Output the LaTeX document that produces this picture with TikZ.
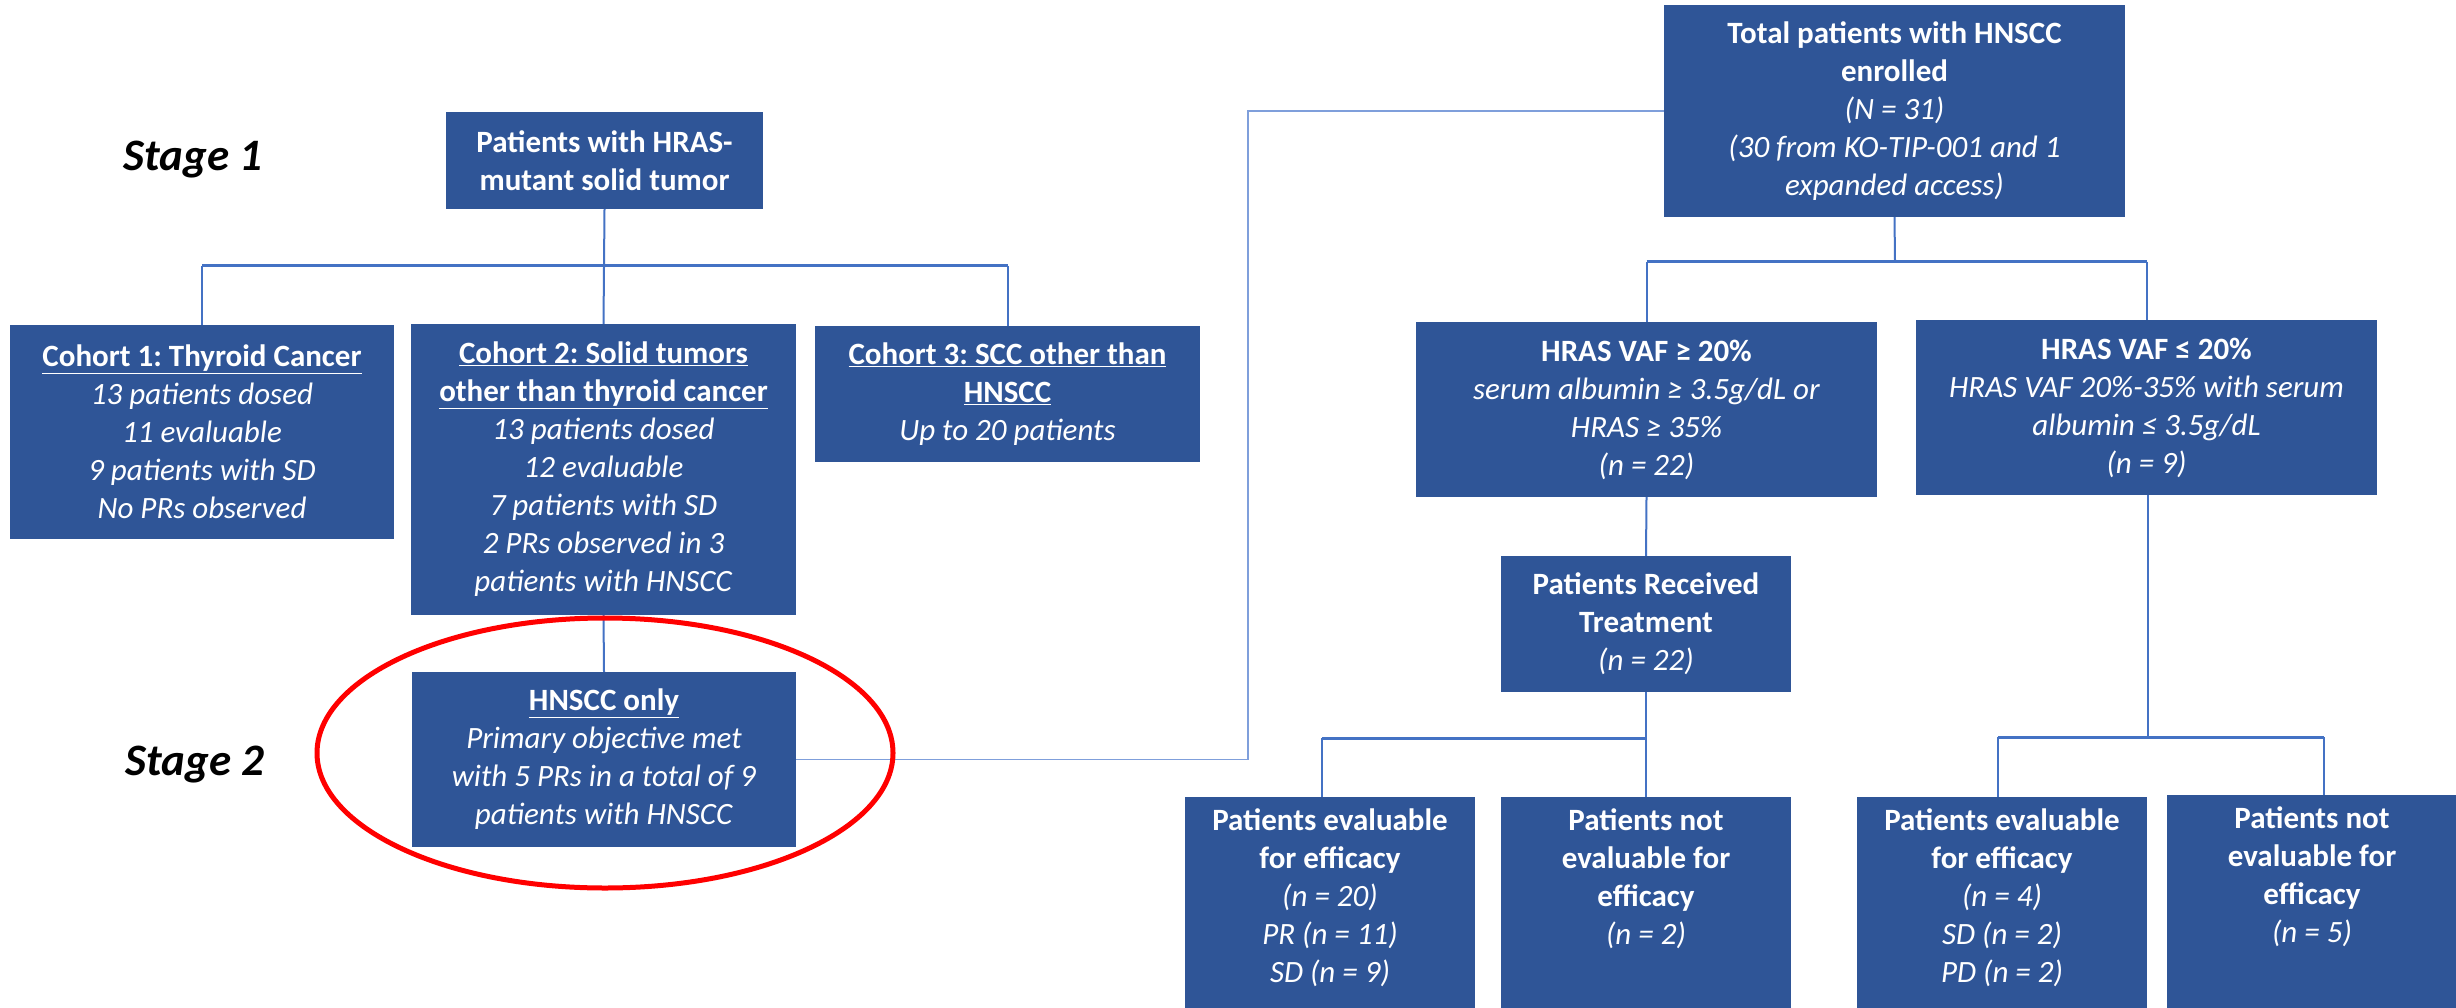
\documentclass[tikz,border=0pt]{standalone}
\usepackage{fontspec}
\setmainfont{Carlito}
\frenchspacing
\definecolor{boxblue}{HTML}{2F5597}
\definecolor{linkblue}{HTML}{4472C4}
\definecolor{lightlink}{HTML}{7F9FDB}
\begin{document}
\begin{tikzpicture}[x=1pt,y=-1pt,
  box/.style={fill=boxblue, text=white, inner sep=0pt, align=center,
    font=\fontsize{31}{38}\selectfont},
  boxtext/.style={text=white, inner sep=0pt, align=center,
    font=\fontsize{31}{38}\selectfont},
  conn/.style={draw=linkblue, line width=2pt},
  bus/.style={draw=linkblue, line width=3pt},
  stage/.style={font=\fontsize{45}{54}\selectfont\bfseries\itshape, text=black}]
\useasboundingbox (0,0) rectangle (2456,1008);
\clip (0,0) rectangle (2456,1008);
\fill[white] (0,0) rectangle (2456,1008);

% stage labels
\node[stage] (s1) at (193,160) {Stage 1};
\node[stage] (s2) at (195,765) {Stage 2};

% left tree
\node[box, minimum width=317pt, minimum height=97pt] (hras) at (604.5,160.5)
  {\textbf{Patients with HRAS-}\\\textbf{mutant solid tumor}};
\node[box, minimum width=384pt, minimum height=214pt] (c1) at (202,432)
  {\textbf{\underline{Cohort 1: Thyroid Cancer}}\\\textit{13 patients dosed}\\\textit{11 evaluable}\\\textit{9 patients with SD}\\\textit{No PRs observed}};
\node[box, minimum width=385pt, minimum height=291pt] (c2) at (603.5,469.5)
  {\textbf{\underline{Cohort 2: Solid tumors}}\\\textbf{\underline{other than thyroid cancer}}\\\textit{13 patients dosed}\\\textit{12 evaluable}\\\textit{7 patients with SD}\\\textit{2 PRs observed in 3}\\\textit{patients with HNSCC}};
\node[box, minimum width=385pt, minimum height=136pt] (c3) at (1007.5,394)
  {\textbf{\underline{Cohort 3: SCC other than}}\\\textbf{\underline{HNSCC}}\\\textit{Up to 20 patients}};
\node[box, minimum width=384pt, minimum height=175pt] (hn) at (604,759.5)
  {\textbf{\underline{HNSCC only}}\\\textit{Primary objective met}\\\textit{with 5 PRs in a total of 9}\\\textit{patients with HNSCC}};

% right tree
\node[box, minimum width=461pt, minimum height=212pt] (tot) at (1894.5,111)
  {\textbf{Total patients with HNSCC}\\\textbf{enrolled}\\\textit{(N = 31)}\\\textit{(30 from KO-TIP-001 and 1}\\\textit{expanded access)}};
\node[box, minimum width=461pt, minimum height=175pt] (vge) at (1646.5,409.5)
  {\textbf{HRAS VAF ≥ 20\%}\\\textit{serum albumin ≥ 3.5g/dL or}\\\textit{HRAS ≥ 35\%}\\\textit{(n = 22)}};
\node[box, minimum width=461pt, minimum height=175pt] (vle) at (2146.5,407.5)
  {\textbf{HRAS VAF ≤ 20\%}\\\textit{HRAS VAF 20\%-35\% with serum}\\\textit{albumin ≤ 3.5g/dL}\\\textit{(n = 9)}};
\node[box, minimum width=290pt, minimum height=136pt] (rec) at (1646,624)
  {\textbf{Patients Received}\\\textbf{Treatment}\\\textit{(n = 22)}};

% bottom boxes (text anchored at top)
\node[box, minimum width=290pt, minimum height=230pt, anchor=north] (ev1) at (1330,797) {};
\node[box, minimum width=290pt, minimum height=230pt, anchor=north] (ne1) at (1646,797) {};
\node[box, minimum width=290pt, minimum height=230pt, anchor=north] (ev2) at (2002,797) {};
\node[box, minimum width=290pt, minimum height=230pt, anchor=north] (ne2) at (2312,795) {};
\node[boxtext, anchor=north] (ev1t) at (1330,808)
  {\textbf{Patients evaluable}\\\textbf{for efficacy}\\\textit{(n = 20)}\\\textit{PR (n = 11)}\\\textit{SD (n = 9)}};
\node[boxtext, anchor=north] (ne1t) at (1646,808)
  {\textbf{Patients not}\\\textbf{evaluable for}\\\textbf{efficacy}\\\textit{(n = 2)}};
\node[boxtext, anchor=north] (ev2t) at (2002,808)
  {\textbf{Patients evaluable}\\\textbf{for efficacy}\\\textit{(n = 4)}\\\textit{SD (n = 2)}\\\textit{PD (n = 2)}};
\node[boxtext, anchor=north] (ne2t) at (2312,806)
  {\textbf{Patients not}\\\textbf{evaluable for}\\\textbf{efficacy}\\\textit{(n = 5)}};

% connectors: left tree
\coordinate (b1) at (604,266);
\draw[conn] (hras.south) -- (c2.north);
\draw[bus] (c1.north |- b1) -- (c3.north |- b1);
\draw[conn] (c1.north |- b1) -- (c1.north);
\draw[conn] (c3.north |- b1) -- (c3.north);
\draw[conn] (c2.south) -- (hn.north);

% link stage 2 to total
\coordinate (j) at (1248,111);
\draw[draw=lightlink, line width=1.6pt] (hn.east) -| (j) -- (tot.west);

% right tree
\coordinate (b2) at (1895,262);
\draw[conn] (tot.south) -- (b2);
\draw[bus] (vge.north |- b2) -- (vle.north |- b2);
\draw[conn] (vge.north |- b2) -- (vge.north);
\draw[conn] (vle.north |- b2) -- (vle.north);
\draw[conn] (vge.south) -- (rec.north);

\coordinate (b3) at (1646,738);
\coordinate (d1) at (1322,738);
\draw[conn] (rec.south) -- (ne1.north);
\draw[bus] (d1) -- (b3);
\draw[conn] (d1) -- (d1 |- ev1.north);

\coordinate (b4) at (2148,737);
\coordinate (d2) at (1998,737);
\coordinate (d3) at (2324,737);
\draw[conn] (vle.south -| b4) -- (b4);
\draw[bus] (d2) -- (d3);
\draw[conn] (d2) -- (d2 |- ev2.north);
\draw[conn] (d3) -- (d3 |- ne2.north);

% highlight ellipse
\draw[red, line width=5pt] (605,753) ellipse [x radius=288, y radius=135];
\end{tikzpicture}
\end{document}
